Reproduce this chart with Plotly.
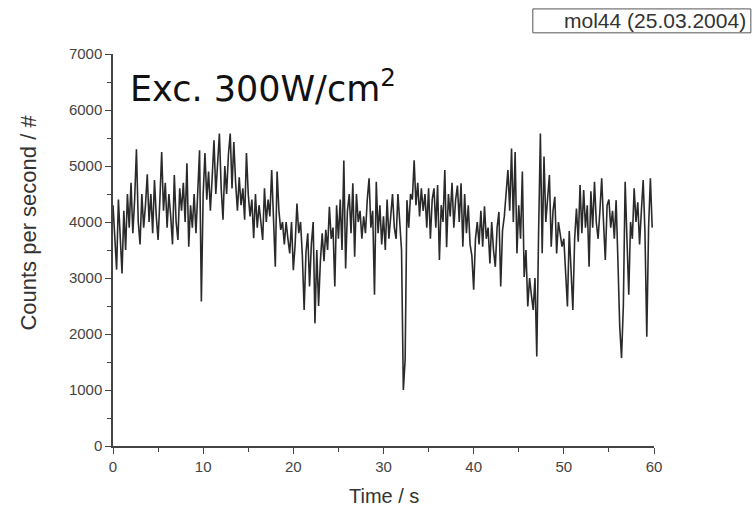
import plotly.graph_objects as go

time_step_s = 0.2
counts = [
    4300, 3600, 3150, 4400, 3700, 3080, 4200, 3500, 4500, 3900,
    4700, 3800, 4400, 5300, 4000, 3600, 4500, 3900, 4300, 4850,
    4000, 4500, 3800, 4750, 4100, 3680, 4400, 5250, 4200, 4700,
    3900, 4500, 4100, 3600, 4840, 4000, 3680, 4600, 4200, 4700,
    4000, 5050, 3560, 4300, 3900, 4500, 3800, 4600, 5280, 2580,
    4500, 5230, 4400, 4900, 4200, 4800, 5460, 4500, 5150, 5580,
    4600, 4040, 5000, 4500, 5200, 5580, 4600, 5430, 4700, 4200,
    4800, 4300, 4600, 4040, 5230, 4500, 4100, 4400, 3710, 4500,
    3900, 4300, 4000, 3680, 4600, 4000, 4400, 4100, 4930, 3900,
    3200, 4900, 4200, 3860, 4000, 3600, 4000, 3700, 3440, 4000,
    3140, 3600, 4330, 3800, 4000, 3400, 2430, 3450, 3800, 2850,
    3600, 4000, 2190, 3500, 2500, 3300, 3800, 3300, 3860, 3500,
    4270, 3700, 3900, 2850, 4300, 3700, 4400, 3500, 5100, 3170,
    4200, 4500, 3800, 4690, 3380, 4500, 4000, 4200, 3700, 4100,
    3800, 4400, 4780, 3900, 4200, 2700, 4720, 3800, 4300, 3600,
    4100, 3500, 4400, 3700, 4200, 4500, 3900, 3700, 4500, 4000,
    3500, 1000, 1540, 4390, 3900, 4500, 4400, 5100, 4300, 4700,
    4100, 4600, 4200, 4500, 3900, 4600, 3700, 4400, 4600, 3900,
    4660, 3320, 4300, 4000, 4930, 3550, 4500, 4100, 4700, 3900,
    4400, 4650, 4000, 4690, 3560, 4500, 3800, 4300, 3600, 3400,
    2790, 3700, 4000, 3600, 4200, 3560, 4280, 3700, 3900, 3260,
    4000, 3500, 3200, 3900, 4180, 2850, 3850, 4100, 4570, 4930,
    4200, 5310, 4000, 5250, 3440, 4300, 3700, 4900, 3020, 3500,
    2490, 3000, 2700, 2430, 3000, 1600, 3800, 5580, 3440, 5170,
    4000, 4500, 4840, 3560, 4200, 4450, 3440, 4000, 3800, 3560,
    3700, 3020, 2490, 3840, 3200, 2430, 3700, 4240, 3650, 4660,
    3800, 4570, 3900, 4300, 3200, 4550, 3900, 4720, 4000, 3700,
    4200, 4780, 4000, 3320, 4300, 4400, 3900, 4200, 3700, 4390,
    3300, 2130, 1570, 2500, 4720, 3500, 2700, 4000, 3700, 4600,
    4000, 4350, 3600, 4200, 4750, 3800, 1950, 3900, 4780, 3900,
]
times = [round(i * time_step_s, 2) for i in range(len(counts))]

x_ticks = [0, 10, 20, 30, 40, 50, 60]
y_ticks = [0, 1000, 2000, 3000, 4000, 5000, 6000, 7000]
x_title = "Time / s"
y_title = "Counts per second / #"
legend_label = "mol44 (25.03.2004)"
note_text = "Exc. 300W/cm<sup>2</sup>"

SANS = "Liberation Sans, Arial"
fig = go.Figure()
fig.add_trace(go.Scatter(
    x=times, y=counts, mode="lines",
    line=dict(color="#2a2a2a", width=1.6),
    showlegend=False,
))

axis_common = dict(
    showgrid=False, zeroline=False, showline=True,
    linecolor="#444444", linewidth=1.5,
    ticks="outside", ticklen=6, tickwidth=1.2, tickcolor="#444444",
    tickfont=dict(family=SANS, size=15, color="#444444"),
)

fig.update_layout(
    width=752, height=508,
    margin=dict(l=113, r=98, t=54, b=62),
    paper_bgcolor="white", plot_bgcolor="white",
    xaxis=dict(
        range=[0, 60], tickvals=x_ticks,
        minor=dict(dtick=5, ticks="outside", ticklen=4, tickcolor="#444444", tickwidth=1),
        **axis_common,
    ),
    yaxis=dict(
        range=[0, 7000], tickvals=y_ticks,
        minor=dict(dtick=500, ticks="outside", ticklen=4, tickcolor="#444444", tickwidth=1),
        **axis_common,
    ),
    shapes=[dict(
        type="rect", xref="paper", yref="paper",
        x0=0.776, x1=1.179, y0=1.054, y1=1.115,
        line=dict(color="#555555", width=1), fillcolor="white",
    )],
    annotations=[
        dict(text=legend_label, xref="paper", yref="paper", x=1.174, y=1.085,
             xanchor="right", yanchor="middle", showarrow=False,
             font=dict(family=SANS, size=21, color="#333333")),
        dict(text=note_text, xref="paper", yref="paper", x=0.028, y=0.918,
             xanchor="left", yanchor="middle", showarrow=False,
             font=dict(family="DejaVu Sans", size=35, color="#111111")),
        dict(text=x_title, xref="paper", yref="paper", x=0.5, y=-0.128,
             xanchor="center", yanchor="middle", showarrow=False,
             font=dict(family=SANS, size=20, color="#333333")),
        dict(text=y_title, xref="paper", yref="paper", x=-0.157, y=0.57,
             xanchor="center", yanchor="middle", showarrow=False, textangle=-90,
             font=dict(family=SANS, size=22, color="#333333")),
    ],
)

fig.write_html("out.html")
